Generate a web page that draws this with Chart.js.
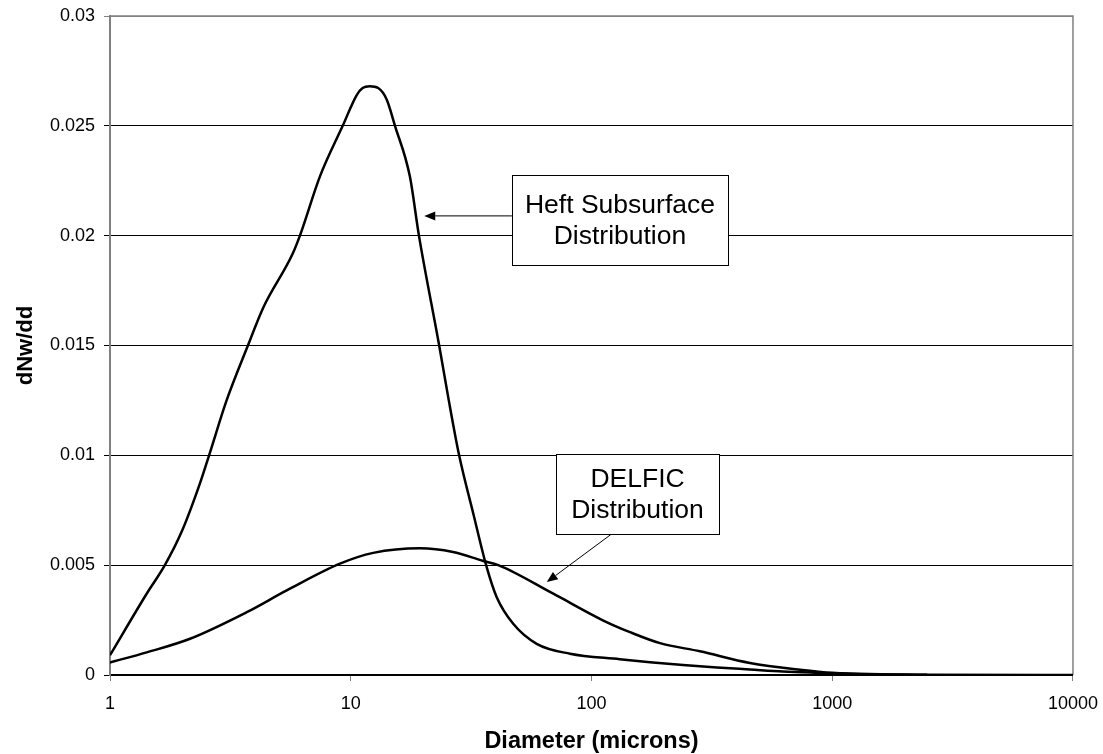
<!DOCTYPE html>
<html>
<head>
<meta charset="utf-8">
<title>dNw/dd</title>
<script src="https://cdn.jsdelivr.net/npm/chart.js@4/dist/chart.umd.min.js"></script>
<style>
  body { margin: 0; background: #fff; }
  canvas { display: block; }
</style>
</head>
<body>
<canvas id="grafico" width="1103" height="754"></canvas>
<script>
var heftDiam = [1, 1.42, 1.69, 1.99, 2.36, 2.58, 3.05, 3.74, 4.32, 5.75, 6.15, 7.45, 9.26, 10.59, 11.2, 12.0, 13.0, 14.1, 15.27, 17.6, 19.2, 23.3, 25.4, 28.2, 32.3, 36.5, 40.4, 47.3, 59.2, 81.4, 131, 175, 240, 332, 455, 624, 864, 1200, 2480];
var heftDnw = [0.0009, 0.0037, 0.005, 0.00655, 0.0087, 0.01, 0.0125, 0.015, 0.0167, 0.0192, 0.02, 0.0227, 0.025, 0.0264, 0.02672, 0.0268, 0.02672, 0.0262, 0.025, 0.0227, 0.02, 0.015, 0.01265, 0.01, 0.00734, 0.005, 0.00354, 0.00233, 0.00142, 0.00097, 0.00072, 0.00058, 0.00045, 0.00034, 0.00025, 0.00016, 0.0001, 0.00005, 0.00001];

var delficDiam = [1, 1.42, 2.15, 3.70, 5.42, 9.02, 12.4, 19.4, 26.6, 35.3, 41, 69.4, 112, 144.5, 192.6, 282, 455, 735, 1000, 2500, 10000];
var delficDnw = [0.00057, 0.00103, 0.00165, 0.00286, 0.00385, 0.00507, 0.00556, 0.00577, 0.0056, 0.0052, 0.005, 0.0037, 0.00248, 0.00195, 0.00145, 0.00108, 0.00055, 0.00024, 0.0001, 0.00001, 0];

// tacche degli assi
var xTicks = [1, 10, 100, 1000, 10000];
var yMax = 0.03;
var yStep = 0.005;

// etichette con freccia: centro del box e punta della freccia in coordinate dati
var etichette = [
  { righe: ['Heft Subsurface', 'Distribution'], cx: 131.3, cy: 0.0207, w: 216, h: 90,
    daX: 'left', puntaX: 20.2, puntaY: 0.0209 },
  { righe: ['DELFIC', 'Distribution'], cx: 155.3, cy: 0.00822, w: 163, h: 80,
    daX: 120.5, puntaX: 65.2, puntaY: 0.00423 }
];

var font = '"Liberation Sans", Arial, sans-serif';

function punti(xs, ys) {
  return xs.map(function (x, i) { return { x: x, y: ys[i] }; });
}

function freccia(ctx, x0, y0, x1, y1) {
  var ang = Math.atan2(y1 - y0, x1 - x0);
  var lung = 11, larg = 4.5;
  var bx = x1 - lung * Math.cos(ang), by = y1 - lung * Math.sin(ang);
  ctx.beginPath();
  ctx.moveTo(x0, y0);
  ctx.lineTo(bx, by);
  ctx.stroke();
  ctx.beginPath();
  ctx.moveTo(x1, y1);
  ctx.lineTo(bx + larg * Math.sin(ang), by - larg * Math.cos(ang));
  ctx.lineTo(bx - larg * Math.sin(ang), by + larg * Math.cos(ang));
  ctx.closePath();
  ctx.fill();
}

// bordo grigio in alto e a destra dell'area del grafico
var bordoArea = {
  id: 'bordoArea',
  beforeDatasetsDraw: function (chart) {
    var a = chart.chartArea, ctx = chart.ctx;
    ctx.save();
    ctx.strokeStyle = '#808080';
    ctx.lineWidth = 1.5;
    ctx.beginPath();
    ctx.moveTo(a.left, a.top);
    ctx.lineTo(a.right, a.top);
    ctx.lineTo(a.right, a.bottom);
    ctx.stroke();
    ctx.restore();
  }
};

// box di testo con le frecce verso le curve
var annotazioni = {
  id: 'annotazioni',
  afterDatasetsDraw: function (chart) {
    var ctx = chart.ctx, sx = chart.scales.x, sy = chart.scales.y;
    ctx.save();
    etichette.forEach(function (e) {
      var cx = sx.getPixelForValue(e.cx), cy = sy.getPixelForValue(e.cy);
      var l = cx - e.w / 2, t = cy - e.h / 2;
      var tx = sx.getPixelForValue(e.puntaX), ty = sy.getPixelForValue(e.puntaY);
      ctx.strokeStyle = '#000';
      ctx.fillStyle = '#000';
      ctx.lineWidth = 1;
      if (e.daX === 'left') {
        freccia(ctx, l, ty, tx, ty);
      } else {
        freccia(ctx, sx.getPixelForValue(e.daX), t + e.h, tx, ty);
      }
      ctx.fillStyle = '#fff';
      ctx.fillRect(l, t, e.w, e.h);
      ctx.strokeRect(Math.round(l) + 0.5, Math.round(t) + 0.5, e.w, e.h);
      ctx.fillStyle = '#000';
      ctx.font = '26.5px ' + font;
      ctx.textAlign = 'center';
      ctx.textBaseline = 'middle';
      ctx.fillText(e.righe[0], cx, cy - 15);
      ctx.fillText(e.righe[1], cx, cy + 16);
    });
    ctx.restore();
  }
};

var ctx = document.getElementById('grafico').getContext('2d');

var myChart = new Chart(ctx, {
  type: 'line',
  data: {
    datasets: [{
      label: 'Heft Subsurface Distribution',
      data: punti(heftDiam, heftDnw),
      borderColor: '#000',
      borderWidth: 2.5,
      pointRadius: 0,
      cubicInterpolationMode: 'monotone',
      fill: false
    }, {
      label: 'DELFIC Distribution',
      data: punti(delficDiam, delficDnw),
      borderColor: '#000',
      borderWidth: 2.5,
      pointRadius: 0,
      cubicInterpolationMode: 'monotone',
      fill: false
    }]
  },
  options: {
    responsive: false,
    animation: false,
    devicePixelRatio: 1,
    layout: { padding: { left: 0, top: 16, right: 30, bottom: 0 } },
    plugins: {
      legend: { display: false },
      tooltip: { enabled: false }
    },
    scales: {
      x: {
        type: 'logarithmic',
        min: 1,
        max: 10000,
        afterBuildTicks: function (scale) {
          scale.ticks = xTicks.map(function (v) { return { value: v }; });
        },
        afterFit: function (scale) { scale.height = 79; },
        border: { display: true, color: '#000', width: 1.5 },
        grid: { drawOnChartArea: false, drawTicks: true, tickLength: 6, color: '#808080' },
        ticks: {
          color: '#000',
          padding: 5,
          maxRotation: 0,
          autoSkip: false,
          font: { family: font, size: 18, lineHeight: 2 },
          callback: function (v) { return String(v); }
        },
        title: {
          display: true,
          text: 'Diameter (microns)',
          color: '#000',
          padding: { top: 0, bottom: -2 },
          font: { family: font, size: 23.5, weight: 'bold' }
        }
      },
      y: {
        min: 0,
        max: yMax,
        afterFit: function (scale) { scale.width = 110; },
        border: { display: true, color: '#808080', width: 2 },
        grid: {
          tickLength: 6,
          lineWidth: 1,
          color: function (c) { return c.tick && c.tick.value >= yMax ? '#808080' : '#000'; }
        },
        ticks: {
          stepSize: yStep,
          color: '#000',
          padding: 9,
          font: { family: font, size: 18, lineHeight: 0.6 },
          callback: function (v) { return String(Number(v.toFixed(3))); }
        },
        title: {
          display: true,
          text: 'dNw/dd',
          color: '#000',
          padding: { top: 13, bottom: 0 },
          font: { family: font, size: 22, weight: 'bold' }
        }
      }
    }
  },
  plugins: [bordoArea, annotazioni]
});
</script>
</body>
</html>
